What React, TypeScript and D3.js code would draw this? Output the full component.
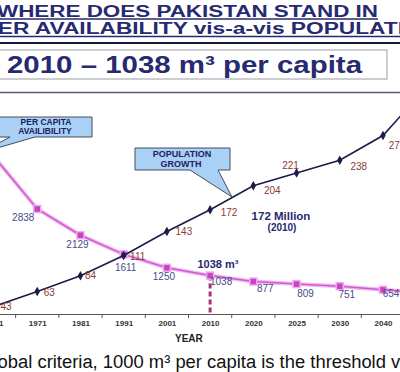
import { useRef, useEffect } from 'react'
import * as d3 from 'd3'

const years = ['1951', '1961', '1971', '1981', '1991', '2001', '2010', '2020', '2025', '2030', '2040', '2050']
// population in millions
const population = [34, 43, 63, 84, 111, 143, 172, 204, 221, 238, 271, 335]
// per capita water availability, m3
const perCapita = [5260, 4250, 2838, 2129, 1611, 1250, 1038, 877, 809, 751, 654, 575]
// which points carry a value label in the picture
const popLabelled = ['1961', '1971', '1981', '1991', '2001', '2010', '2020', '2025', '2030', '2040']
const capLabelled = ['1971', '1981', '1991', '2001', '2010', '2020', '2025', '2030', '2040']

const titleLine1 = 'WHERE DOES PAKISTAN STAND IN'
const titleLine2 = 'WATER AVAILABILITY vis-a-vis POPULATION'
const headline = '2010 –  1038 m³ per capita'
const footnote = 'As per global criteria, 1000 m³ per capita is the threshold value'

// label nudges (dx, dy) from the point
const popOffsets: Record<string, [number, number]> = {
  '1961': [12, 0], '1971': [12, 1], '1981': [10, 0], '1991': [14, 1], '2001': [17, 0],
  '2010': [19, 3], '2020': [19, 5], '2025': [-6, -8], '2030': [19, 6], '2040': [14, 10],
}
const capOffsets: Record<string, [number, number]> = {
  '1971': [-14, 9], '1981': [-3, 9], '1991': [2, 13], '2001': [-3, 9], '2010': [11, 6],
  '2020': [12, 7], '2025': [9, 9], '2030': [7, 8], '2040': [8, 4],
}

const W = 400
const H = 372
const NAVY = '#262a6e'

export default function App() {
  const svgRef = useRef<SVGSVGElement>(null)

  useEffect(() => {
    if (!svgRef.current) return
    const svg = d3.select(svgRef.current)
    svg.selectAll('*').remove()

    svg.append('rect').attr('width', W).attr('height', H).attr('fill', '#fff')

    // Title, stretched wide like the slide
    svg.append('text')
      .attr('x', -3).attr('y', 17)
      .attr('textLength', 381).attr('lengthAdjust', 'spacingAndGlyphs')
      .attr('font-family', 'Liberation Sans, Arial, sans-serif')
      .attr('font-weight', 'bold').attr('font-size', 16).attr('fill', NAVY)
      .text(titleLine1)
    svg.append('line').attr('x1', -3).attr('x2', 378).attr('y1', 19).attr('y2', 19)
      .attr('stroke', NAVY).attr('stroke-width', 1.5)
    svg.append('text')
      .attr('x', -51).attr('y', 34)
      .attr('textLength', 489).attr('lengthAdjust', 'spacingAndGlyphs')
      .attr('font-family', 'Liberation Sans, Arial, sans-serif')
      .attr('font-weight', 'bold').attr('font-size', 16).attr('fill', NAVY)
      .text(titleLine2)
    svg.append('line').attr('x1', 0).attr('x2', W).attr('y1', 36.5).attr('y2', 36.5)
      .attr('stroke', NAVY).attr('stroke-width', 1.5)
    svg.append('line').attr('x1', 0).attr('x2', W).attr('y1', 43).attr('y2', 43)
      .attr('stroke', '#1a1a3a').attr('stroke-width', 2)

    // Headline box
    svg.append('rect').attr('x', -5).attr('y', 50).attr('width', 392).attr('height', 29)
      .attr('fill', '#fff').attr('stroke', '#9a9aa8').attr('stroke-width', 1)
    svg.append('text')
      .attr('x', 7).attr('y', 73)
      .attr('textLength', 355).attr('lengthAdjust', 'spacingAndGlyphs')
      .attr('font-family', 'Liberation Sans, Arial, sans-serif')
      .attr('font-weight', 'bold').attr('font-size', 24).attr('fill', NAVY)
      .text(headline)
    svg.append('line').attr('x1', 0).attr('x2', W).attr('y1', 92.5).attr('y2', 92.5)
      .attr('stroke', '#55597a').attr('stroke-width', 1.5)

    // Scales
    const x = d3.scalePoint<string>().domain(years).range([-49.2, 426.2])
    const step = x.step()
    const yCap = d3.scaleLinear().domain([0, 6000]).range([314, 92])
    const yPop = d3.scaleLinear().domain([33, 329]).range([314, 92])
    const px = (d: string) => x(d) ?? 0

    // X axis
    const axis = svg.append('g').attr('transform', 'translate(0,314)')
      .call(d3.axisBottom(x).tickSize(0).tickPadding(6))
    axis.select('.domain').attr('stroke', '#555').attr('stroke-width', 1.2)
    axis.selectAll('text')
      .attr('font-family', 'Liberation Sans, Arial, sans-serif')
      .attr('font-weight', 'bold').attr('font-size', 8).attr('fill', '#333')
    axis.selectAll('.boundary')
      .data(years)
      .join('line')
      .attr('x1', (d) => px(d) - step / 2).attr('x2', (d) => px(d) - step / 2)
      .attr('y1', 0).attr('y2', 4)
      .attr('stroke', '#555').attr('stroke-width', 1)

    svg.append('text').attr('x', 175).attr('y', 342)
      .attr('font-family', 'Liberation Sans, Arial, sans-serif')
      .attr('font-weight', 'bold').attr('font-size', 10).attr('fill', '#222')
      .text('YEAR')

    // Dashed drop at 2010
    svg.append('line')
      .attr('x1', px('2010')).attr('x2', px('2010'))
      .attr('y1', yCap(perCapita[years.indexOf('2010')])).attr('y2', 314)
      .attr('stroke', '#a83274').attr('stroke-width', 3).attr('stroke-dasharray', '5,3')

    // Per capita line
    const capLine = d3.line<number>().x((_, i) => px(years[i])).y((d) => yCap(d))
    svg.append('path').attr('d', capLine(perCapita))
      .attr('fill', 'none').attr('stroke', '#f2b8f2').attr('stroke-width', 4)
    svg.append('path').attr('d', capLine(perCapita))
      .attr('fill', 'none').attr('stroke', '#cf5ccf').attr('stroke-width', 1.5)
    svg.selectAll('.cap-pt')
      .data(perCapita)
      .join('rect')
      .attr('x', (_, i) => px(years[i]) - 3.5)
      .attr('y', (d) => yCap(d) - 3.5)
      .attr('width', 7).attr('height', 7)
      .attr('fill', '#c444c4').attr('stroke', '#f0a8f0').attr('stroke-width', 1.5)

    // Population line
    const popLine = d3.line<number>().x((_, i) => px(years[i])).y((d) => yPop(d))
    svg.append('path').attr('d', popLine(population))
      .attr('fill', 'none').attr('stroke', '#1c1c4a').attr('stroke-width', 1.6)
    svg.selectAll('.pop-pt')
      .data(population)
      .join('path')
      .attr('d', d3.symbol(d3.symbolDiamond, 26)())
      .attr('transform', (d, i) => `translate(${px(years[i])},${yPop(d)})`)
      .attr('fill', '#1c1c4a')

    // Value labels
    const labelFont = 'Liberation Sans, Arial, sans-serif'
    svg.selectAll('.pop-label')
      .data(popLabelled)
      .join('text')
      .attr('x', (d) => px(d) + popOffsets[d][0])
      .attr('y', (d) => yPop(population[years.indexOf(d)]) + popOffsets[d][1])
      .attr('text-anchor', 'middle').attr('dominant-baseline', 'central')
      .attr('font-family', labelFont).attr('font-size', 10).attr('fill', '#8a3a34')
      .text((d) => population[years.indexOf(d)])
    svg.selectAll('.cap-label')
      .data(capLabelled)
      .join('text')
      .attr('x', (d) => px(d) + capOffsets[d][0])
      .attr('y', (d) => yCap(perCapita[years.indexOf(d)]) + capOffsets[d][1])
      .attr('text-anchor', 'middle').attr('dominant-baseline', 'central')
      .attr('font-family', labelFont).attr('font-size', 10).attr('fill', '#4a4c86')
      .text((d) => perCapita[years.indexOf(d)])

    // Annotations
    svg.append('text').attr('x', 218).attr('y', 268).attr('text-anchor', 'middle')
      .attr('font-family', labelFont).attr('font-weight', 'bold').attr('font-size', 11).attr('fill', NAVY)
      .text('1038 m³')
    svg.append('text').attr('x', 281).attr('y', 220).attr('text-anchor', 'middle')
      .attr('font-family', labelFont).attr('font-weight', 'bold').attr('font-size', 11.5).attr('fill', NAVY)
      .text('172 Million')
    svg.append('text').attr('x', 282).attr('y', 231).attr('text-anchor', 'middle')
      .attr('font-family', labelFont).attr('font-weight', 'bold').attr('font-size', 10).attr('fill', NAVY)
      .text('(2010)')

    // Callouts
    const calloutFill = '#a9d0f5'
    svg.append('path')
      .attr('d', 'M-5,117 L92,117 L92,137 L35,137 L-20,153 L10,137 L-5,137 Z')
      .attr('fill', calloutFill).attr('stroke', '#4a4a5a').attr('stroke-width', 1)
    svg.append('text').attr('x', 46).attr('y', 125).attr('text-anchor', 'middle')
      .attr('font-family', labelFont).attr('font-weight', 'bold').attr('font-size', 8.5).attr('fill', '#1e2060')
      .text('PER CAPITA')
    svg.append('text').attr('x', 45).attr('y', 134).attr('text-anchor', 'middle')
      .attr('font-family', labelFont).attr('font-weight', 'bold').attr('font-size', 8.5).attr('fill', '#1e2060')
      .text('AVAILIBILITY')

    svg.append('path')
      .attr('d', 'M135,148 L230,148 L230,170 L218,170 L232,197 L190,170 L135,170 Z')
      .attr('fill', calloutFill).attr('stroke', '#4a4a5a').attr('stroke-width', 1)
    svg.append('text').attr('x', 182).attr('y', 157).attr('text-anchor', 'middle')
      .attr('font-family', labelFont).attr('font-weight', 'bold').attr('font-size', 9).attr('fill', '#1e2060')
      .text('POPULATION')
    svg.append('text').attr('x', 181).attr('y', 167).attr('text-anchor', 'middle')
      .attr('font-family', labelFont).attr('font-weight', 'bold').attr('font-size', 9).attr('fill', '#1e2060')
      .text('GROWTH')

    // Footnote
    svg.append('text')
      .attr('x', -75).attr('y', 368)
      .attr('textLength', 510).attr('lengthAdjust', 'spacingAndGlyphs')
      .attr('font-family', labelFont).attr('font-size', 18).attr('fill', '#111')
      .text(footnote)
  }, [])

  return (
    <svg
      ref={svgRef}
      width={W}
      height={H}
      style={{ position: 'absolute', left: 0, top: 0, display: 'block' }}
    />
  )
}
